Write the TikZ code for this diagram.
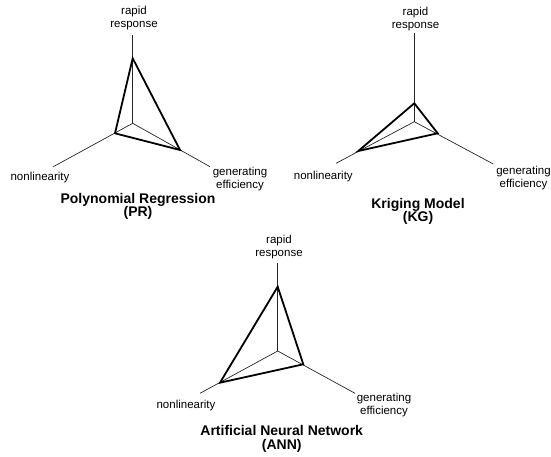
\documentclass[tikz,border=0pt]{standalone}
\usepackage{fontspec}
\setmainfont{Liberation Sans}
\begin{document}
\begin{tikzpicture}[x=1pt,y=-1pt,
  axisline/.style={line width=0.7pt,black!85},
  tri/.style={line width=1.8pt,line join=miter},
  lbl/.style={font=\fontsize{11.5}{13}\selectfont,align=center,inner sep=0pt},
  ttl/.style={font=\fontsize{14}{13.5}\selectfont\bfseries,align=center,inner sep=0pt}]
\useasboundingbox (0,0) rectangle (551,457);
% ---- PR ----
\coordinate (pc) at (132.7,123.3);
\coordinate (pt) at (132.7,35);
\coordinate (pl) at (53.3,166.7);
\coordinate (pr) at (210,166.7);
\coordinate (pvt) at (132.7,58.3);
\coordinate (pvl) at (115,133.3);
\coordinate (pvr) at (180,150);
\draw[axisline] (pc) -- (pt);
\draw[axisline] (pc) -- (pl);
\draw[axisline] (pc) -- (pr);
\draw[tri] (pvt) -- (pvl) -- (pvr) -- cycle;
\node[lbl] (prr) at (134,18.5) {rapid\\response};
\node[lbl] (prn) at (40,178) {nonlinearity};
\node[lbl] (prg) at (240,179) {generating\\efficiency};
\node[ttl] (prt) at (138,206.5) {Polynomial Regression\\(PR)};
% ---- KG ----
\coordinate (kc) at (414.3,121.7);
\coordinate (kt) at (414.3,33.3);
\coordinate (kl) at (336,163.3);
\coordinate (kr) at (493.3,164);
\coordinate (kvt) at (414.3,103.3);
\coordinate (kvl) at (358.3,151);
\coordinate (kvr) at (437.7,133.3);
\draw[axisline] (kc) -- (kt);
\draw[axisline] (kc) -- (kl);
\draw[axisline] (kc) -- (kr);
\draw[tri] (kvt) -- (kvl) -- (kvr) -- cycle;
\node[lbl] (kgr) at (415.5,19) {rapid\\response};
\node[lbl] (kgn) at (323.3,176.7) {nonlinearity};
\node[lbl] (kgg) at (523.5,178) {generating\\efficiency};
\node[ttl] (kgt) at (418,211.5) {Kriging Model\\(KG)};
% ---- ANN ----
\coordinate (ac) at (277.7,351);
\coordinate (at) at (277.7,263.3);
\coordinate (al) at (200,393.3);
\coordinate (ar) at (355,393.3);
\coordinate (avt) at (277.7,286.7);
\coordinate (avl) at (220,382.7);
\coordinate (avr) at (303.3,364.3);
\draw[axisline] (ac) -- (at);
\draw[axisline] (ac) -- (al);
\draw[axisline] (ac) -- (ar);
\draw[tri] (avt) -- (avl) -- (avr) -- cycle;
\node[lbl] (anr) at (279,247.5) {rapid\\response};
\node[lbl] (ann) at (186,406) {nonlinearity};
\node[lbl] (ang) at (384,405) {generating\\efficiency};
\node[ttl] (ant) at (281.7,439) {Artificial Neural Network\\(ANN)};
\end{tikzpicture}
\end{document}
